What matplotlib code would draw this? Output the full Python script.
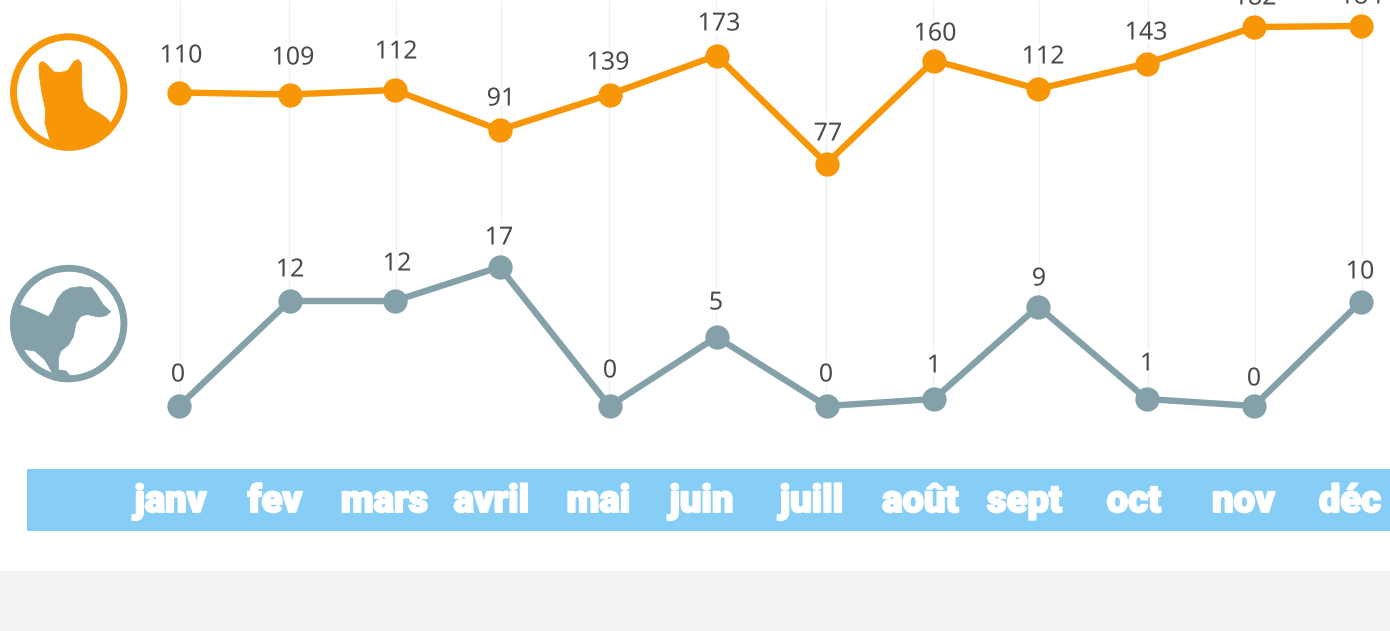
import matplotlib
matplotlib.use("Agg")
import matplotlib.pyplot as plt
from matplotlib.patches import Circle, Polygon, Rectangle
import matplotlib.patheffects as pe

# ---- data ----
months = ["janv", "fev", "mars", "avril", "mai", "juin", "juill", "août", "sept", "oct", "nov", "déc"]
cat_values = [110, 109, 112, 91, 139, 173, 77, 160, 112, 143, 182, 184]
ferret_values = [0, 12, 12, 17, 0, 5, 0, 1, 9, 1, 0, 10]

# the chart's drawn point heights do not follow a common linear scale, so they are read separately
cat_heights = [92.5, 94.5, 90, 130, 94.5, 55.5, 163.5, 60.5, 89, 63.5, 27, 26]
ferret_heights = [406, 301, 301, 267, 406, 337, 406, 399, 306.5, 399, 406, 302]
point_x = [179, 289.5, 394.5, 499.5, 609.5, 716.5, 826.5, 934, 1038, 1146.5, 1254, 1360.5]
grid_x = [179.5, 289, 396, 501, 608.5, 715.5, 825.5, 933, 1039, 1148, 1255, 1361.5]

# ---- placement of texts (pixels) ----
cat_label_x = [181, 293, 396, 501, 608, 719, 828, 935, 1043, 1146, 1255, 1361]
cat_label_y = [53, 55, 49, 96, 60, 21, 131, 31, 54, 30, -5, -6]
ferret_label_x = [178, 290, 397, 499, 610, 716, 826, 934, 1039, 1147, 1254, 1360]
ferret_label_y = [372, 267, 261, 235, 368, 300, 372, 363, 276, 361, 376, 269]
month_x = [170.5, 275, 384.5, 491.5, 598.5, 701.5, 811.5, 920.5, 1024.5, 1134, 1243.5, 1350]

ORANGE = "#F79708"
GREY = "#84A1AA"
TEXT = "#4A4A4A"
BAND = "#87CEF7"
GRID = "#E6F2FB"

fig = plt.figure(figsize=(13.9, 6.31), dpi=100, facecolor="white")
ax = fig.add_axes([0, 0, 1, 1])
ax.set_xlim(0, 1390)
ax.set_ylim(631, 0)
ax.axis("off")

# page background + month band
ax.add_patch(Rectangle((0, 571), 1390, 60, fc="#F3F3F3", ec="none", zorder=0))
ax.add_patch(Rectangle((26.5, 469), 1363.5, 62, fc=BAND, ec="none", zorder=1))

# grid lines
for gx, fy in zip(grid_x, ferret_heights):
    ax.plot([gx, gx], [0, fy], color=GRID, lw=1, zorder=1, solid_capstyle="butt")

# series
for ys, col in ((cat_heights, ORANGE), (ferret_heights, GREY)):
    ax.plot(point_x, ys, color=col, lw=4.6, marker="o", ms=17.5, mew=0, zorder=3,
            solid_joinstyle="round", clip_on=False)

# value labels
halo = [pe.withStroke(linewidth=5, foreground="white")]
for vals, xs, ys in ((cat_values, cat_label_x, cat_label_y),
                     (ferret_values, ferret_label_x, ferret_label_y)):
    for v, x, y in zip(vals, xs, ys):
        ax.text(x, y, str(v), ha="center", va="center_baseline", fontsize=18,
                family="Noto Sans", color=TEXT, zorder=2, path_effects=halo)

# month labels
for m, x in zip(months, month_x):
    ax.text(x, 512, m, ha="center", va="baseline", fontsize=27.5, family="Roboto",
            fontweight="black", color="white", zorder=4,
            path_effects=[pe.withStroke(linewidth=1.4, foreground="white")])


def to_px(pts, ox, oy):
    return [(x / 3 + ox, y / 3 + oy) for x, y in pts]


def badge(center, col, outline):
    clip = Circle(center, 58.7, transform=ax.transData)
    ax.add_patch(Circle(center, 55.2, fc="none", ec=col, lw=5, zorder=2))
    poly = Polygon(outline, closed=True, fc=col, ec=col, lw=0.6, joinstyle="round", zorder=2)
    ax.add_patch(poly)
    poly.set_clip_path(clip)
    return poly


cat_shape = [(117, 140), (120, 128), (128, 125), (140, 133), (162, 156), (180, 157), (195, 155),
             (205, 150), (222, 124), (235, 119), (243, 128), (245, 150), (245, 200), (250, 240),
             (265, 262), (295, 278), (320, 295), (340, 320), (340, 420), (150, 420), (150, 360),
             (135, 310), (137, 270), (125, 215), (118, 165)]
badge((68.7, 92), ORANGE, to_px(cat_shape, 0, 20))

ferret_shape = [(0, 135), (60, 150), (100, 165), (145, 185), (158, 168), (172, 132),
                (190, 110), (212, 99), (240, 95), (262, 98), (275, 98), (290, 118), (310, 150),
                (332, 170), (318, 182), (295, 186), (262, 178), (242, 184), (228, 205),
                (220, 245), (205, 270), (182, 288), (175, 310), (175, 345), (198, 348),
                (208, 360), (208, 400), (150, 400), (158, 355), (135, 315), (105, 288),
                (70, 283), (90, 340), (0, 320)]
badge((68.7, 323.5), GREY, to_px(ferret_shape, 0, 255))

fig.savefig("out.png", dpi=100, facecolor="white")
